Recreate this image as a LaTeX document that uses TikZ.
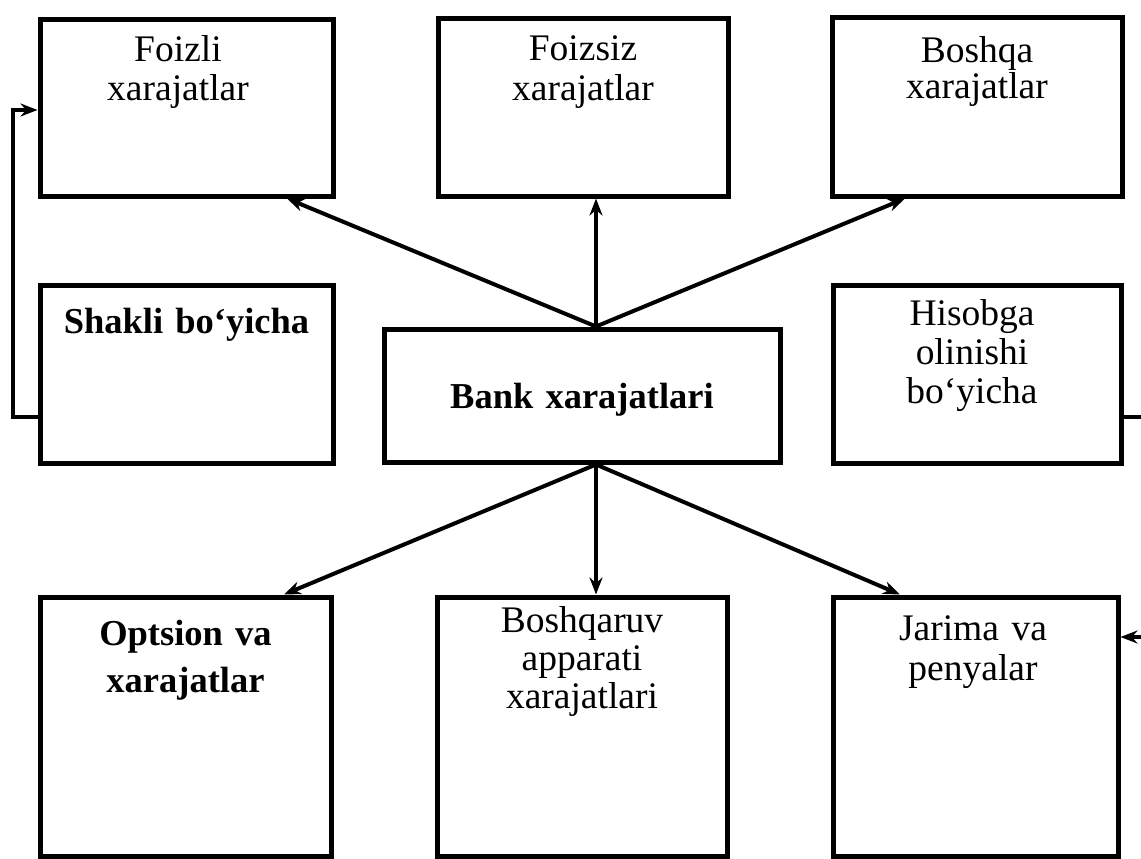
\documentclass[tikz,border=0pt]{standalone}
\usepackage{fontspec}
\setmainfont{Liberation Serif}
\usetikzlibrary{arrows.meta}
\begin{document}
\begin{tikzpicture}[x=1pt,y=-1pt,
  box/.style={draw=black, line width=5pt, inner sep=0pt},
  lbl/.style={text width=285pt, align=center, inner sep=0pt, anchor=base,
              font=\fontsize{37.5}{#1}\selectfont},
  lbl/.default=40,
  blbl/.style={text width=285pt, align=center, inner sep=0pt, anchor=base,
              font=\fontsize{36.5}{#1}\selectfont\bfseries},
  blbl/.default=40,
  link/.style={line width=4pt, -{Stealth[length=17pt,width=13pt]}},
]
\useasboundingbox (0,0) rectangle (1141,859);
\clip (0,0) rectangle (1141,859);

% top row
\node[box, minimum width=293pt, minimum height=176pt] (foizli)  at (186.5,108) {};
\node[box, minimum width=290pt, minimum height=177pt] (foizsiz) at (583,107.5) {};
\node[box, minimum width=290pt, minimum height=178pt] (boshqa)  at (977,107) {};
% middle row
\node[box, minimum width=293pt, minimum height=178pt] (shakli) at (186.5,374) {};
\node[box, minimum width=396pt, minimum height=133pt] (bank)   at (582,395.5) {};
\node[box, minimum width=288pt, minimum height=178pt] (hisob)  at (977,374) {};
% bottom row
\node[box, minimum width=291pt, minimum height=259pt] (optsion)   at (185.5,726.5) {};
\node[box, minimum width=290pt, minimum height=259pt] (boshqaruv) at (582,726.5) {};
\node[box, minimum width=285pt, minimum height=259pt] (jarima)    at (975.5,726.5) {};

% labels
\node[lbl=39] (foizli-t)  at (178,62) {Foizli\\xarajatlar};
\node[lbl] (foizsiz-t) at (583,60) {Foizsiz\\xarajatlar};
\node[lbl=31] (boshqa-t) at (977,63) {Boshqa\\xarajatlar};
\node[blbl] (shakli-t) at (186.5,333) {Shakli bo‘yicha};
\node[blbl] (bank-t)   at (582,408) {Bank xarajatlari};
\node[lbl=39] (hisob-t) at (972,325) {Hisobga\\olinishi\\bo‘yicha};
\node[blbl=47] (optsion-t) at (185.5,645) {Optsion va\\xarajatlar};
\node[lbl=38] (boshqaruv-t) at (582,632) {Boshqaruv\\apparati\\xarajatlari};
\node[lbl=40] (jarima-t) at (973,640) {Jarima va\\penyalar};

% hubs on the central box
\coordinate (hubT) at ([xshift=14pt]bank.north);
\coordinate (hubB) at ([xshift=14pt]bank.south);

% connectors upward
\draw[link] (hubT) -- ([xshift=100.5pt]foizli.south);
\draw[link] (hubT) -- (hubT |- foizsiz.south);
\draw[link] (hubT) -- ([xshift=-72pt]boshqa.south);
% connectors downward
\draw[link] (hubB) -- ([xshift=98.5pt]optsion.north);
\draw[link] (hubB) -- (hubB |- boshqaruv.north);
\draw[link] (hubB) -- ([xshift=-75.5pt]jarima.north);

% side loop on the left
\coordinate (loopL) at (13,417);
\draw[link] (shakli.west |- loopL) -- (loopL) |- ([yshift=-2pt]foizli.west);

% side loop on the right, running past the edge
\coordinate (loopR) at (1165,417);
\draw[link] (hisob.east |- loopR) -- (loopR) |- ([yshift=89.5pt]jarima.east);
\end{tikzpicture}
\end{document}
